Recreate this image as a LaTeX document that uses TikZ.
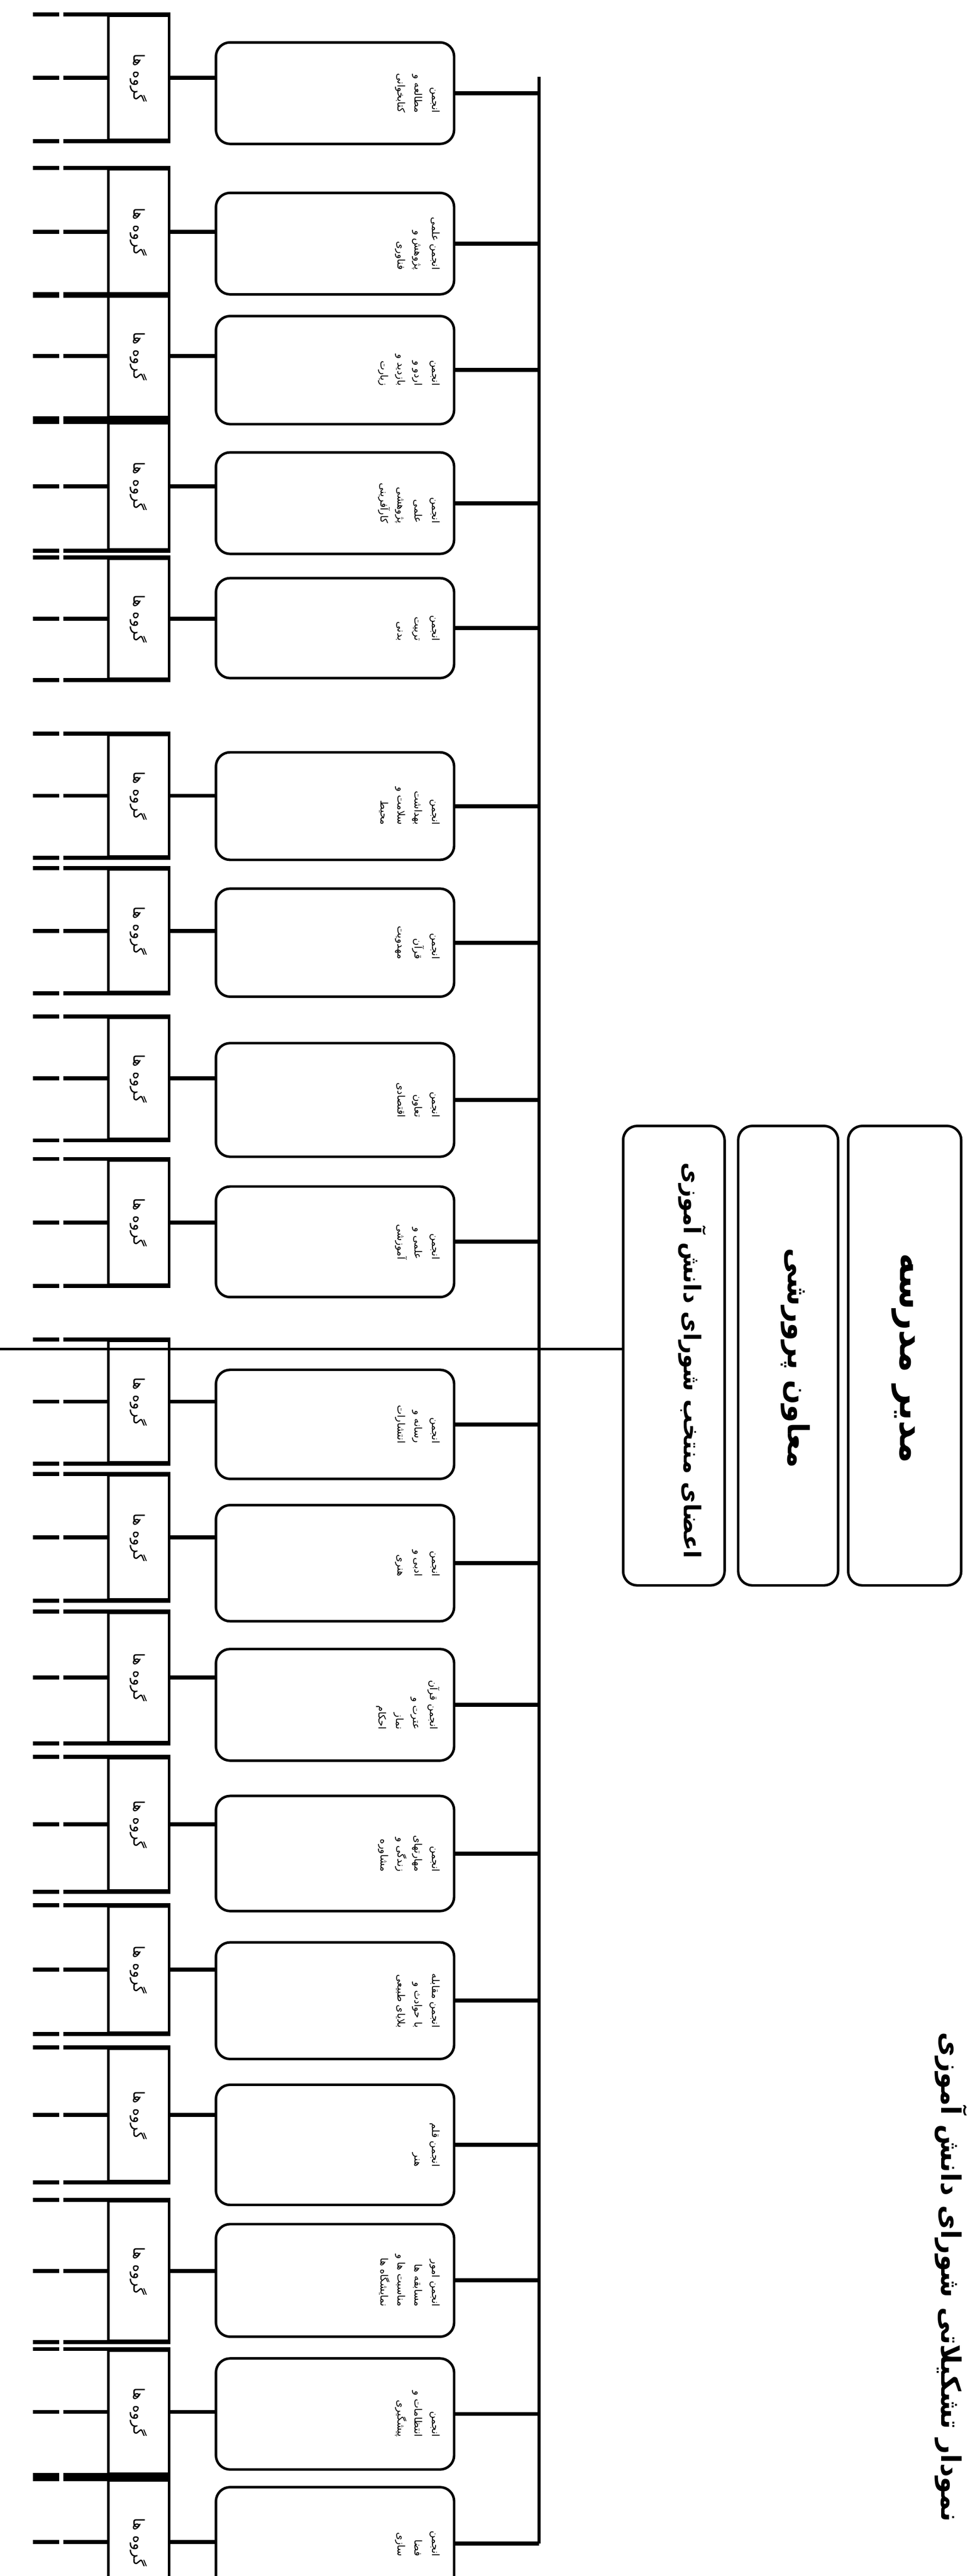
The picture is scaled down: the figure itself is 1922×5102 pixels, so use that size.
\documentclass[tikz,border=0pt]{standalone}
\usepackage{fontspec}
\usepackage{graphicx}
\newfontfamily\fa[Script=Arabic]{DejaVu Sans}
\TeXXeTstate=1
\newcommand\rl[1]{\beginR #1\endR}
\tikzset{
  x=0.5pt, y=-0.5pt,
  cbox/.style={draw, line width=2.5pt, rounded corners=14pt, minimum width=236pt, inner sep=0pt},
  gbox/.style={draw, line width=2.6pt, minimum width=60pt, inner sep=0pt},
  mbox/.style={draw, line width=2.5pt, rounded corners=14pt, minimum height=455pt, inner sep=0pt},
  gline/.style={line width=4pt, dash pattern=on 26pt off 4pt on 400pt},
  conn/.style={line width=4pt},
  busl/.style={line width=3pt},
  hline/.style={line width=2.5pt},
  ctext/.style={rotate=-90, anchor=north, align=right, inner sep=0pt, font=\fa\fontsize{10}{17}\selectfont},
  gtext/.style={rotate=-90, inner sep=0pt, font=\fa\fontsize{15}{18}\selectfont},
  mtext/.style={rotate=-90, inner sep=0pt, font=\fa\bfseries},
}
\newcommand\crow[6]{%
  \node[cbox, minimum height={((#3)-(#2))*0.5pt}] (b#1) at (664,{((#2)+(#3))/2}) {};
  \node[gbox, minimum height={((#5)-(#4))*0.5pt}] (r#1) at (275,{((#4)+(#5))/2}) {};
  \node[gtext] (g#1) at (r#1.center) {\rl{گروه ها}};
  \node[ctext] (t#1) at (872,{((#2)+(#3))/2}) {#6};
  \draw[gline] (r#1.north west -| lx) -- (r#1.north east);
  \draw[gline] (r#1.south west -| lx) -- (r#1.south east);
  \draw[gline] (r#1.west -| lx) -- (r#1.west);
  \draw[conn] (r#1.east) -- (r#1.east -| b#1.west);
  \draw[conn] (b#1.east) -- (b#1.east -| bus);
}
\begin{document}
\begin{tikzpicture}
\fill[white] (0,0) rectangle (1922,5102);
\useasboundingbox (0,0) rectangle (1922,5102);
\coordinate (lx) at (65,0);
\coordinate (bus) at (1068,152);
% committees
\crow{1}{84}{285}{31}{277}{\rl{انجمن}\\\rl{مطالعه و}\\\rl{کتابخوانی}}
\crow{2}{382}{583}{335}{583}{\rl{انجمن علمی}\\\rl{پژوهش و}\\\rl{فناوری}}
\crow{3}{626}{840}{585}{826}{\rl{انجمن}\\\rl{اردو و}\\\rl{بازدید و}\\\rl{زیارت}}
\crow{4}{896}{1097}{838}{1088}{\rl{انجمن}\\\rl{علمی}\\\rl{پژوهشی}\\\rl{کارآفرینی}}
\crow{5}{1145}{1343}{1107}{1344}{\rl{انجمن}\\\rl{تربیت}\\\rl{بدنی}}
\crow{6}{1490}{1703}{1456}{1696}{\rl{انجمن}\\\rl{بهداشت}\\\rl{سلامت و}\\\rl{محیط}}
\crow{7}{1760}{1974}{1722}{1965}{\rl{انجمن}\\\rl{قرآن}\\\rl{مهدویت}}
\crow{8}{2066}{2291}{2016}{2256}{\rl{انجمن}\\\rl{تعاون}\\\rl{اقتصادی}}
\crow{9}{2350}{2569}{2298}{2544}{\rl{انجمن}\\\rl{علمی و}\\\rl{آموزشی}}
\crow{10}{2713}{2929}{2656}{2896}{\rl{انجمن}\\\rl{رسانه و}\\\rl{انتشارات}}
\crow{11}{2981}{3211}{2922}{3168}{\rl{انجمن}\\\rl{ادبی و}\\\rl{هنری}}
\crow{12}{3266}{3487}{3194}{3450}{\rl{انجمن قرآن}\\\rl{عترت و}\\\rl{نماز}\\\rl{احکام}}
\crow{13}{3557}{3785}{3482}{3744}{\rl{انجمن}\\\rl{مهارتهای}\\\rl{زندگی و}\\\rl{مشاوره}}
\crow{14}{3847}{4078}{3776}{4026}{\rl{انجمن مقابله}\\\rl{با حوادث و}\\\rl{بلایای طبیعی}}
\crow{15}{4129}{4367}{4058}{4320}{\rl{انجمن قلم}\\\rl{هنر}}
\crow{16}{4405}{4628}{4360}{4636}{\rl{انجمن امور}\\\rl{مسابقه ها}\\\rl{مناسبت ها و}\\\rl{نمایشگاه ها}}
\crow{17}{4671}{4891}{4655}{4899}{\rl{انجمن}\\\rl{انتظامات و}\\\rl{پیشگیری}}
\crow{18}{4926}{5150}{4913}{5157}{\rl{انجمن}\\\rl{فضا}\\\rl{سازی}}
\draw[busl] (bus) -- (b18.east -| bus);
% main boxes
\node[mbox, minimum width=100.5pt] (m1) at (1335.5,2685) {};
\node[mbox, minimum width=99pt] (m2) at (1562,2685) {};
\node[mbox, minimum width=112pt] (m3) at (1793,2685) {};
\node[mtext] (mt1) at (1372,2695) {\resizebox{392pt}{!}{\rl{اعضای منتخب شورای دانش آموزی}}};
\node[mtext] (mt2) at (1577,2690) {\resizebox{218pt}{!}{\rl{معاون پرورشی}}};
\node[mtext] (mt3) at (1790,2690) {\resizebox{208pt}{!}{\rl{مدیر مدرسه}}};
\coordinate (hl) at (0,2672);
\draw[hline] (hl) -- (hl -| m1.west);
% title
\node[mtext] (title) at (1885,4510) {\resizebox{485pt}{!}{\rl{نمودار تشکیلاتی شورای دانش آموزی}}};
\end{tikzpicture}
\end{document}
